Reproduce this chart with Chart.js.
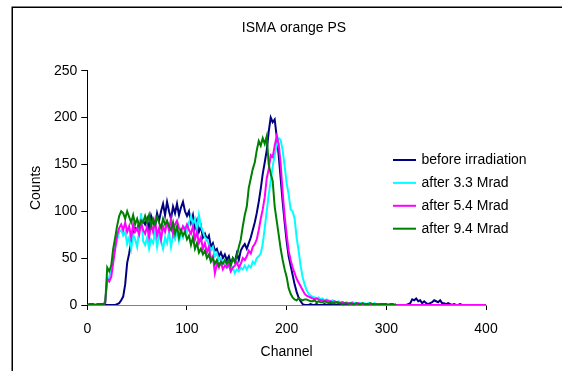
<!DOCTYPE html>
<html><head><meta charset="utf-8">
<script src="https://cdn.jsdelivr.net/npm/chart.js@4/dist/chart.umd.min.js"></script>
<style>html,body{margin:0;padding:0;background:#fff;}canvas{display:block}</style>
</head><body>
<canvas id="c" width="562" height="371"></canvas>
<script>
const chartTitle = 'ISMA orange PS';
const xAxisTitle = 'Channel';
const yAxisTitle = 'Counts';
const seriesNames = ['before irradiation', 'after 3.3 Mrad', 'after 5.4 Mrad', 'after 9.4 Mrad'];
const seriesColors = ['#000080', '#00FFFF', '#FF00FF', '#008000'];
const xTickStep = 100;
const yTickStep = 50;

const channels = [
0,2,4,6,8,10,12,14,16,18,
20,22,24,26,28,30,32,34,36,38,
40,42,44,46,48,50,52,54,56,58,
60,62,64,66,68,70,72,74,76,78,
80,82,84,86,88,90,92,94,96,98,
100,102,104,106,108,110,112,114,116,118,
120,122,124,126,128,130,132,134,136,138,
140,142,144,146,148,150,152,154,156,158,
160,162,164,166,168,170,172,174,176,178,
180,182,184,186,188,190,192,194,196,198,
200,202,204,206,208,210,212,214,216,218,
220,222,224,226,228,230,232,234,236,238,
240,242,244,246,248,250,252,254,256,258,
260,262,264,266,268,270,272,274,276,278,
280,282,284,286,288,290,292,294,296,298,
300,302,304,306,308,310,312,314,316,318,
320,322,324,326,328,330,332,334,336,338,
340,342,344,346,348,350,352,354,356,358,
360,362,364,366,368,370,372,374,376,378,
380,382,384,386,388,390,392,394,396,398,
400];

const beforeIrradiation = [
0,0,0,0,0,0,0,0,0,0,
0,0,0,0,0,1,2,5,9,22,
45,55,68,76,82,80,88,84,90,86,
92,80,95,88,84,98,90,100,108,96,
110,100,92,105,98,108,96,104,110,100,
95,100,88,96,82,90,78,84,72,76,
70,74,62,66,58,60,52,56,50,54,
48,52,44,50,46,55,48,58,62,65,
60,66,72,80,88,98,110,124,140,152,
165,185,200,195,198,180,160,135,110,88,
68,52,42,32,22,14,8,4,1,0,
0,0,1,0,0,1,0,0,0,1,
0,0,1,0,0,0,1,0,0,0,
0,1,0,0,0,0,1,0,0,0,
0,0,1,0,0,0,0,1,0,0,
0,0,0,1,0,0,0,0,0,0,
0,1,2,6,5,7,4,5,2,4,
2,1,2,3,5,4,3,5,2,2,
1,2,1,0,1,0,0,1,0,0,
0,0,0,0,0,0,0,0,0,0,
0];

const after33 = [
0,0,0,0,0,0,0,0,0,5,
25,30,38,50,62,70,78,80,74,78,
65,72,60,75,70,62,80,98,68,64,
72,60,70,66,78,62,74,68,60,72,
66,78,62,74,70,80,68,76,72,82,
78,88,95,86,92,80,96,84,78,72,
70,64,58,62,52,55,48,50,44,46,
40,42,36,40,34,38,36,40,38,42,
38,42,40,46,44,50,52,55,65,82,
100,118,132,148,160,170,178,176,165,148,
130,118,102,100,92,72,58,42,30,22,
16,12,10,9,8,7,8,6,7,5,
6,5,4,5,4,3,4,3,3,2,
3,2,2,3,2,2,1,2,1,2,
1,2,1,1,2,1,1,1,0,1,
1,0,1,0,0,0,0,0,0,0,
0,0,0,0,0,0,0,0,0,0,
0,0,0,0,0,0,0,0,0,0,
0,0,0,0,0,0,0,0,0,0,
0,0,0,0,0,0,0,0,0,0,
0];

const after54 = [
0,0,0,0,0,0,0,0,0,3,
28,25,30,45,60,75,82,86,80,88,
78,84,72,86,78,82,75,88,80,76,
84,72,86,78,90,74,82,70,84,78,
88,80,92,76,86,90,82,78,84,80,
86,80,76,84,70,78,66,72,60,66,
56,62,48,52,34,44,40,46,38,42,
40,44,36,40,42,46,40,44,50,48,
52,58,55,62,65,70,80,92,102,115,
135,145,160,158,170,180,172,150,120,95,
75,58,48,40,34,28,24,20,16,12,
10,9,8,7,6,7,6,5,5,4,
5,4,4,3,4,3,3,2,3,2,
2,2,1,2,1,1,2,1,1,1,
1,1,0,1,1,0,1,0,0,1,
0,0,0,0,0,0,0,0,0,0,
0,0,0,0,0,0,0,0,0,0,
0,0,0,0,0,0,0,0,0,0,
0,0,0,0,0,0,0,0,0,0,
0,0,0,0,0,0,0,0,0,0,
0];

const after94 = [
0,1,1,1,0,1,1,1,1,2,
40,36,42,60,72,85,95,100,98,92,
100,94,88,96,86,92,84,90,88,95,
88,96,84,92,86,94,88,82,92,86,
90,84,80,88,76,84,72,80,74,78,
70,74,64,72,60,66,56,60,54,58,
50,54,46,50,44,48,42,46,44,48,
44,48,42,50,46,52,62,70,84,96,
105,125,135,145,152,165,175,170,178,172,
180,150,140,132,105,90,75,60,48,38,
30,18,12,8,6,5,7,6,5,6,
6,5,4,4,5,3,4,3,3,4,
3,2,3,2,2,3,2,2,1,2,
2,1,2,1,1,2,1,1,2,1,
1,1,2,1,1,1,0,1,1,1,
1,0,1,1,0,1,null,null,null,null,
null,null,null,null,null,null,null,null,null,null,
null,null,null,null,null,null,null,null,null,null,
null,null,null,null,null,null,null,null,null,null,
null,null,null,null,null,null,null,null,null,null,
null];

const seriesValues = [beforeIrradiation, after33, after54, after94];
const FONT = { family: '"Liberation Sans", Arial, sans-serif', size: 14 };

const datasets = seriesValues.map((vals, i) => ({
  label: seriesNames[i],
  data: channels.map((c, j) => ({ x: c, y: vals[j] })).filter(p => p.y !== null),
  borderColor: seriesColors[i],
  backgroundColor: seriesColors[i],
  borderWidth: 2,
  pointRadius: 0,
  tension: 0,
  fill: false,
  order: seriesValues.length - i
}));

const decorations = {
  id: 'decorations',
  afterDraw(chart) {
    const ctx = chart.ctx;
    ctx.save();
    ctx.strokeStyle = '#000';
    ctx.lineWidth = 1.5;
    ctx.strokeRect(12.25, 7.25, 700, 500);
    ctx.fillStyle = '#000';
    ctx.font = '14px "Liberation Sans", Arial, sans-serif';
    ctx.textAlign = 'center';
    ctx.textBaseline = 'middle';
    ctx.fillText(chartTitle, 294, 28);
    chart.data.datasets.forEach((ds, i) => {
      const y = 160 + i * 22.9;
      ctx.strokeStyle = ds.borderColor;
      ctx.lineWidth = 2;
      ctx.beginPath();
      ctx.moveTo(393, y);
      ctx.lineTo(416, y);
      ctx.stroke();
      ctx.textAlign = 'left';
      ctx.fillText(ds.label, 421.5, y);
    });
    ctx.restore();
  }
};

new Chart(document.getElementById('c'), {
  type: 'line',
  data: { datasets },
  options: {
    responsive: false,
    animation: false,
    devicePixelRatio: 1,
    layout: { padding: { left: 12, top: 70.7, right: 76, bottom: 0 } },
    plugins: { legend: { display: false }, title: { display: false }, tooltip: { enabled: false } },
    scales: {
      x: {
        type: 'linear', min: 0, max: 400,
        ticks: { stepSize: xTickStep, color: '#000', font: FONT, padding: 11, maxRotation: 0 },
        grid: { drawOnChartArea: false, drawTicks: true, tickLength: 5, color: '#000' },
        border: { display: true, color: '#808080', width: 1 },
        title: { display: true, text: xAxisTitle, color: '#000', font: FONT, padding: { top: 4, bottom: 10.6 } },
        afterFit(s) { s.height = 66; }
      },
      y: {
        min: 0, max: 250,
        ticks: { stepSize: yTickStep, color: '#000', font: FONT, padding: 4 },
        grid: { drawOnChartArea: false, drawTicks: true, tickLength: 6, color: '#000' },
        border: { display: true, color: '#000', width: 1 },
        title: { display: true, text: yAxisTitle, color: '#000', font: FONT, padding: { top: 15.6, bottom: 0 } },
        afterFit(s) { s.width = 75.3; }
      }
    }
  },
  plugins: [decorations]
});
</script>
</body></html>
